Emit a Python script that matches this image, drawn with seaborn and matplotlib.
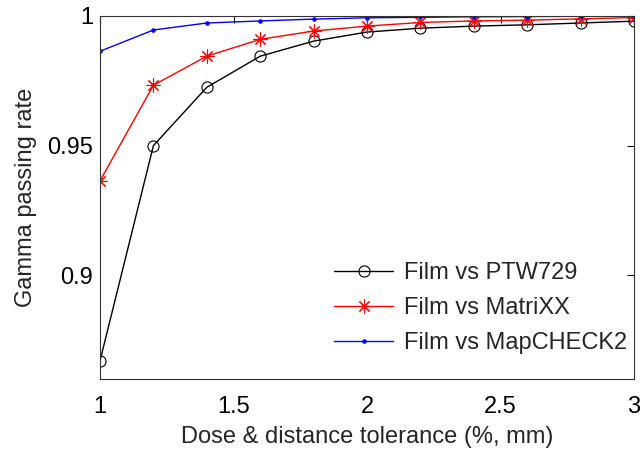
import matplotlib
matplotlib.use("Agg")
import matplotlib.pyplot as plt
import seaborn as sns
import pandas as pd

tolerance = [1.0, 1.2, 1.4, 1.6, 1.8, 2.0, 2.2, 2.4, 2.6, 2.8, 3.0]
ptw729 = [0.867, 0.950, 0.9725, 0.9845, 0.9903, 0.9938, 0.9953, 0.9961, 0.9966, 0.9973, 0.9980]
matrixx = [0.9364, 0.9733, 0.9845, 0.991, 0.9942, 0.9961, 0.9975, 0.9981, 0.9984, 0.9989, 0.9994]
mapcheck2 = [0.9864, 0.9946, 0.9973, 0.9981, 0.9988, 0.9993, 0.9995, 0.9997, 0.9998, 0.9999, 0.9999]
series_names = ["Film vs PTW729", "Film vs MatriXX", "Film vs MapCHECK2"]
x_ticks = [1, 1.5, 2, 2.5, 3]
x_tick_labels = ["1", "1.5", "2", "2.5", "3"]
y_ticks = [0.9, 0.95, 1.0]
y_tick_labels = ["0.9", "0.95", "1"]

sns.set_style("white")
plt.rcParams["font.family"] = ["Liberation Sans", "DejaVu Sans"]

rows = []
for name, vals in zip(series_names, [ptw729, matrixx, mapcheck2]):
    for t, v in zip(tolerance, vals):
        rows.append({"tol": t, "rate": v, "series": name})
df = pd.DataFrame(rows)

fig = plt.figure(figsize=(6.4, 4.49), dpi=100)
ax = fig.add_axes([100/640, 1-379/449, 534/640, 363/449])

styles = {
    "Film vs PTW729": dict(color="black", marker="o", markersize=8, markerfacecolor="none",
                           markeredgecolor="black", markeredgewidth=0.8),
    "Film vs MatriXX": dict(color="red", marker=(8, 2, 0), markersize=10,
                            markeredgecolor="red", markeredgewidth=0.8),
    "Film vs MapCHECK2": dict(color="blue", marker=".", markersize=5, markerfacecolor="blue",
                              markeredgecolor="blue"),
}
for name in series_names:
    sub = df[df["series"] == name]
    sns.lineplot(data=sub, x="tol", y="rate", ax=ax, label=name, linewidth=1.0,
                 **styles[name])

ax.set_xlim(1, 3)
ax.set_ylim(0.86, 1.0)
ax.set_xticks(x_ticks)
ax.set_xticklabels(x_tick_labels)
ax.set_yticks(y_ticks)
ax.set_yticklabels(y_tick_labels)
ax.tick_params(direction="in", top=True, right=True, length=5, width=0.8,
               labelsize=17, colors="black")
ax.tick_params(axis="x", pad=12)
ax.tick_params(axis="y", pad=5)
for s in ax.spines.values():
    s.set_visible(True)
    s.set_color("#333333")
    s.set_linewidth(0.8)
ax.set_xlabel("Dose & distance tolerance (%, mm)", fontsize=17, labelpad=6)
ax.set_ylabel("Gamma passing rate", fontsize=17, labelpad=7)
ax.legend(loc="lower right", frameon=False, fontsize=17, handlelength=2.5,
          handletextpad=0.45, labelspacing=0.55, borderaxespad=0.0,
          bbox_to_anchor=(1.005, 0.042))
fig.savefig("out.png", dpi=100)
